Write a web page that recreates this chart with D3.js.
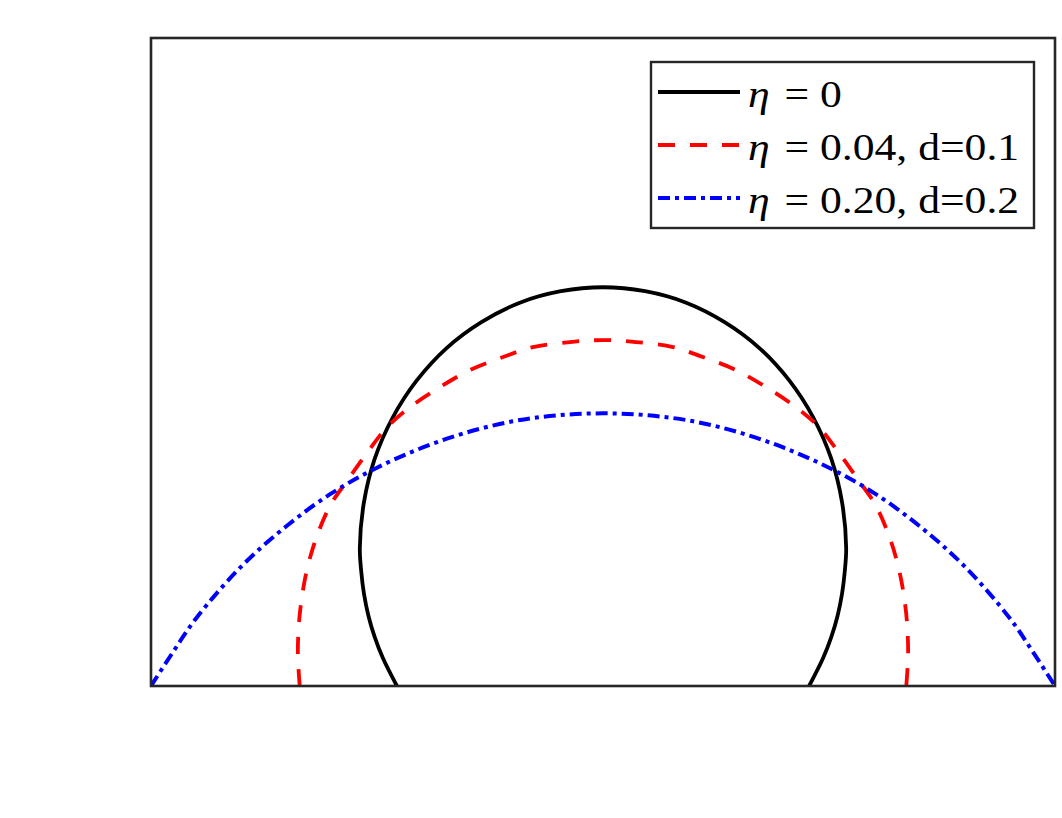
<!DOCTYPE html>
<html>
<head>
<meta charset="utf-8">
<script src="https://cdn.jsdelivr.net/npm/d3@7"></script>
<style>
  body { margin: 0; background: #fff; }
  svg { display: block; }
</style>
</head>
<body>
<svg id="chart"></svg>
<script>
// Profiles, [x, y] in plot units
const etaZero = [
  [-0.456, 0], [-0.487, 0.056], [-0.505, 0.098], [-0.519, 0.141], [-0.529, 0.186],
  [-0.535, 0.231], [-0.538, 0.277], [-0.529, 0.368],
  [-0.505, 0.456], [-0.465, 0.539], [-0.412, 0.613], [-0.346, 0.678], [-0.269, 0.730],
  [-0.184, 0.769], [-0.093, 0.792], [0, 0.800], [0.093, 0.792], [0.184, 0.769],
  [0.269, 0.730], [0.346, 0.678], [0.412, 0.613], [0.465, 0.539], [0.505, 0.456],
  [0.529, 0.368], [0.538, 0.277], [0.535, 0.231], [0.529, 0.186], [0.519, 0.141],
  [0.505, 0.098], [0.487, 0.056], [0.456, 0]
];

const eta004 = [
  [-0.671, 0], [-0.675, 0.062], [-0.673, 0.122], [-0.667, 0.173], [-0.656, 0.229],
  [-0.636, 0.293], [-0.603, 0.363], [-0.565, 0.413], [-0.521, 0.469], [-0.477, 0.520],
  [-0.426, 0.560], [-0.360, 0.600], [-0.294, 0.634], [-0.221, 0.660], [-0.155, 0.680],
  [-0.073, 0.690], [0, 0.694], [0.073, 0.690], [0.155, 0.680], [0.221, 0.660],
  [0.294, 0.634], [0.360, 0.600], [0.426, 0.560], [0.477, 0.520], [0.521, 0.469],
  [0.565, 0.413], [0.603, 0.363], [0.636, 0.293], [0.656, 0.229], [0.667, 0.173],
  [0.673, 0.122], [0.675, 0.062], [0.671, 0]
];

const eta020 = [
  [-1, 0], [-0.95, 0.07], [-0.9, 0.136], [-0.8, 0.240], [-0.7, 0.321], [-0.6, 0.387],
  [-0.5, 0.438], [-0.4, 0.478], [-0.3, 0.509], [-0.2, 0.531], [-0.1, 0.543],
  [0, 0.547], [0.1, 0.543], [0.2, 0.531], [0.3, 0.509], [0.4, 0.478], [0.5, 0.438],
  [0.6, 0.387], [0.7, 0.321], [0.8, 0.240], [0.9, 0.136], [0.95, 0.07], [1, 0]
];

const seriesLabels = ['0', '0.04, d=0.1', '0.20, d=0.2'];

const series = [
  { data: etaZero, color: '#000000', dash: null, width: 3.8 },
  { data: eta004, color: '#ff0000', dash: '17,15', width: 3.8 },
  { data: eta020, color: '#0000ff', dash: '12,5,4,5', width: 4 }
];

const width = 1062, height = 818;
const plot = { left: 151, right: 1055, top: 38, bottom: 686 };

const svg = d3.select('#chart')
  .attr('width', width)
  .attr('height', height);

const x = d3.scaleLinear().domain([-1, 1]).range([plot.left, plot.right]);
const y = d3.scaleLinear().domain([0, 1.3]).range([plot.bottom, plot.top]);

svg.append('defs').append('clipPath')
  .attr('id', 'clip')
  .append('rect')
  .attr('x', plot.left)
  .attr('y', plot.top)
  .attr('width', plot.right - plot.left)
  .attr('height', plot.bottom - plot.top);

const line = d3.line()
  .x(d => x(d[0]))
  .y(d => y(d[1]))
  .curve(d3.curveCatmullRom.alpha(0.5));

const g = svg.append('g').attr('clip-path', 'url(#clip)');

g.selectAll('path.curve')
  .data(series)
  .join('path')
  .attr('class', 'curve')
  .attr('d', d => line(d.data))
  .attr('fill', 'none')
  .attr('stroke', d => d.color)
  .attr('stroke-width', d => d.width)
  .attr('stroke-dasharray', d => d.dash);

// Axes box
svg.append('rect')
  .attr('x', plot.left)
  .attr('y', plot.top)
  .attr('width', plot.right - plot.left)
  .attr('height', plot.bottom - plot.top)
  .attr('fill', 'none')
  .attr('stroke', '#262626')
  .attr('stroke-width', 2.6);

// Legend
const legend = svg.append('g');
legend.append('rect')
  .attr('x', 651)
  .attr('y', 62)
  .attr('width', 383)
  .attr('height', 166)
  .attr('fill', '#fff')
  .attr('stroke', '#262626')
  .attr('stroke-width', 2.4);

const rows = legend.selectAll('g.row')
  .data(series)
  .join('g')
  .attr('class', 'row')
  .attr('transform', (d, i) => `translate(0, ${92 + i * 53})`);

rows.append('line')
  .attr('x1', 658)
  .attr('x2', 740)
  .attr('y1', 0)
  .attr('y2', 0)
  .attr('stroke', d => d.color)
  .attr('stroke-width', d => d.width)
  .attr('stroke-dasharray', d => d.dash);

// text in the source is a bit wider than tall, so stretch it horizontally
const txt = rows.append('text')
  .attr('transform', 'translate(748, 15) scale(1.18, 1)')
  .attr('font-family', '"Liberation Serif", "Times New Roman", serif')
  .attr('font-size', 37)
  .attr('fill', '#000');

txt.append('tspan')
  .attr('x', 0)
  .attr('font-style', 'italic')
  .text('η');
txt.append('tspan')
  .attr('x', 31)
  .text('=');
txt.append('tspan')
  .attr('x', 61)
  .text((d, i) => seriesLabels[i]);
</script>
</body>
</html>
